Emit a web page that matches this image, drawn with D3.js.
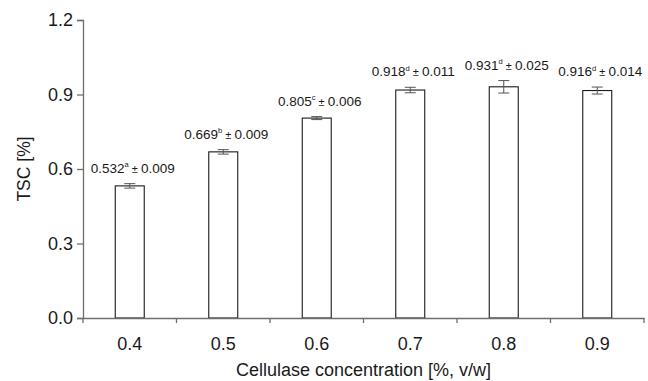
<!DOCTYPE html>
<html>
<head>
<meta charset="utf-8">
<script src="https://cdn.jsdelivr.net/npm/d3@7"></script>
<style>
  html, body { margin: 0; padding: 0; background: #fff; }
  svg { display: block; font-family: Arial, "Liberation Sans", sans-serif; }
</style>
</head>
<body>
<div id="chart"></div>
<script>
// data
const categories = ['0.4', '0.5', '0.6', '0.7', '0.8', '0.9'];
const means = [0.532, 0.669, 0.805, 0.918, 0.931, 0.916];
const errors = [0.009, 0.009, 0.006, 0.011, 0.025, 0.014];
const letters = ['a', 'b', 'c', 'd', 'd', 'd'];
const yTicks = [0, 0.3, 0.6, 0.9, 1.2];

const width = 648, height = 381;
const plot = { left: 83, right: 644, top: 20, bottom: 318 };

const svg = d3.select('#chart').append('svg')
  .attr('width', width)
  .attr('height', height);

const x = d3.scaleBand()
  .domain(categories)
  .range([plot.left, plot.right])
  .padding(0);

const y = d3.scaleLinear()
  .domain([0, 1.2])
  .range([plot.bottom, plot.top]);

const axisColor = '#6e6e6e';
const barW = x.bandwidth() * 0.31;

// bars
svg.selectAll('.bar')
  .data(means)
  .join('rect')
  .attr('class', 'bar')
  .attr('x', (d, i) => x(categories[i]) + x.bandwidth() / 2 - barW / 2)
  .attr('y', d => y(d))
  .attr('width', barW)
  .attr('height', d => y(0) - y(d))
  .attr('fill', '#fff')
  .attr('stroke', '#1a1a1a')
  .attr('stroke-width', 1.1);

// error bars
const eb = svg.selectAll('.err')
  .data(means)
  .join('g')
  .attr('class', 'err')
  .attr('stroke', '#555')
  .attr('stroke-width', 1);

eb.append('line')
  .attr('x1', (d, i) => x(categories[i]) + x.bandwidth() / 2)
  .attr('x2', (d, i) => x(categories[i]) + x.bandwidth() / 2)
  .attr('y1', (d, i) => y(d - errors[i]))
  .attr('y2', (d, i) => y(d + errors[i]));

[-1, 1].forEach(s => {
  eb.append('line')
    .attr('x1', (d, i) => x(categories[i]) + x.bandwidth() / 2 - 5.5)
    .attr('x2', (d, i) => x(categories[i]) + x.bandwidth() / 2 + 5.5)
    .attr('y1', (d, i) => y(d + s * errors[i]))
    .attr('y2', (d, i) => y(d + s * errors[i]));
});

// value labels
const lbl = svg.selectAll('.value-label')
  .data(means)
  .join('text')
  .attr('class', 'value-label')
  .attr('x', (d, i) => x(categories[i]) + x.bandwidth() / 2 + 3)
  .attr('y', (d, i) => y(d + errors[i]) - 11)
  .attr('text-anchor', 'middle')
  .attr('font-size', 13.5)
  .attr('fill', '#1a1a1a');

lbl.append('tspan').text(d => d.toFixed(3));
lbl.append('tspan')
  .attr('font-size', 7.5)
  .attr('dy', -5.5)
  .text((d, i) => letters[i]);
lbl.append('tspan')
  .attr('font-size', 11)
  .attr('dy', 5.5)
  .text(' \u00b1 ');
lbl.append('tspan')
  .text((d, i) => errors[i].toFixed(3));

// y axis
const yAxis = svg.append('g')
  .attr('transform', `translate(${plot.left},0)`)
  .call(d3.axisLeft(y)
    .tickValues(yTicks)
    .tickFormat(d3.format('.1f'))
    .tickSize(6)
    .tickPadding(4));

yAxis.select('.domain').attr('stroke', axisColor).attr('stroke-width', 1.3);
yAxis.selectAll('.tick line').attr('stroke', axisColor).attr('stroke-width', 1.3);
yAxis.selectAll('text')
  .style('font-size', '18px')
  .style('fill', '#1a1a1a');

// x axis: labels at band centres, ticks at band edges
const xAxis = svg.append('g')
  .attr('transform', `translate(0,${plot.bottom})`)
  .call(d3.axisBottom(x).tickSize(0).tickPadding(19));

xAxis.select('.domain').attr('stroke', axisColor).attr('stroke-width', 1.3);
xAxis.selectAll('text')
  .style('font-size', '18px')
  .style('fill', '#1a1a1a');

const edges = categories.map(c => x(c)).concat([x.range()[1]]);
xAxis.selectAll('.edge')
  .data(edges)
  .join('line')
  .attr('class', 'edge')
  .attr('x1', d => d)
  .attr('x2', d => d)
  .attr('y1', 0)
  .attr('y2', 5)
  .attr('stroke', axisColor)
  .attr('stroke-width', 1.3);

// axis titles
svg.append('text')
  .attr('x', (plot.left + plot.right) / 2)
  .attr('y', 376)
  .attr('text-anchor', 'middle')
  .attr('font-size', 18)
  .attr('fill', '#1a1a1a')
  .text('Cellulase concentration [%, v/w]');

svg.append('text')
  .attr('transform', `translate(30,${(plot.top + plot.bottom) / 2}) rotate(-90)`)
  .attr('text-anchor', 'middle')
  .attr('font-size', 17.5)
  .attr('fill', '#1a1a1a')
  .text('TSC [%]');
</script>
</body>
</html>
